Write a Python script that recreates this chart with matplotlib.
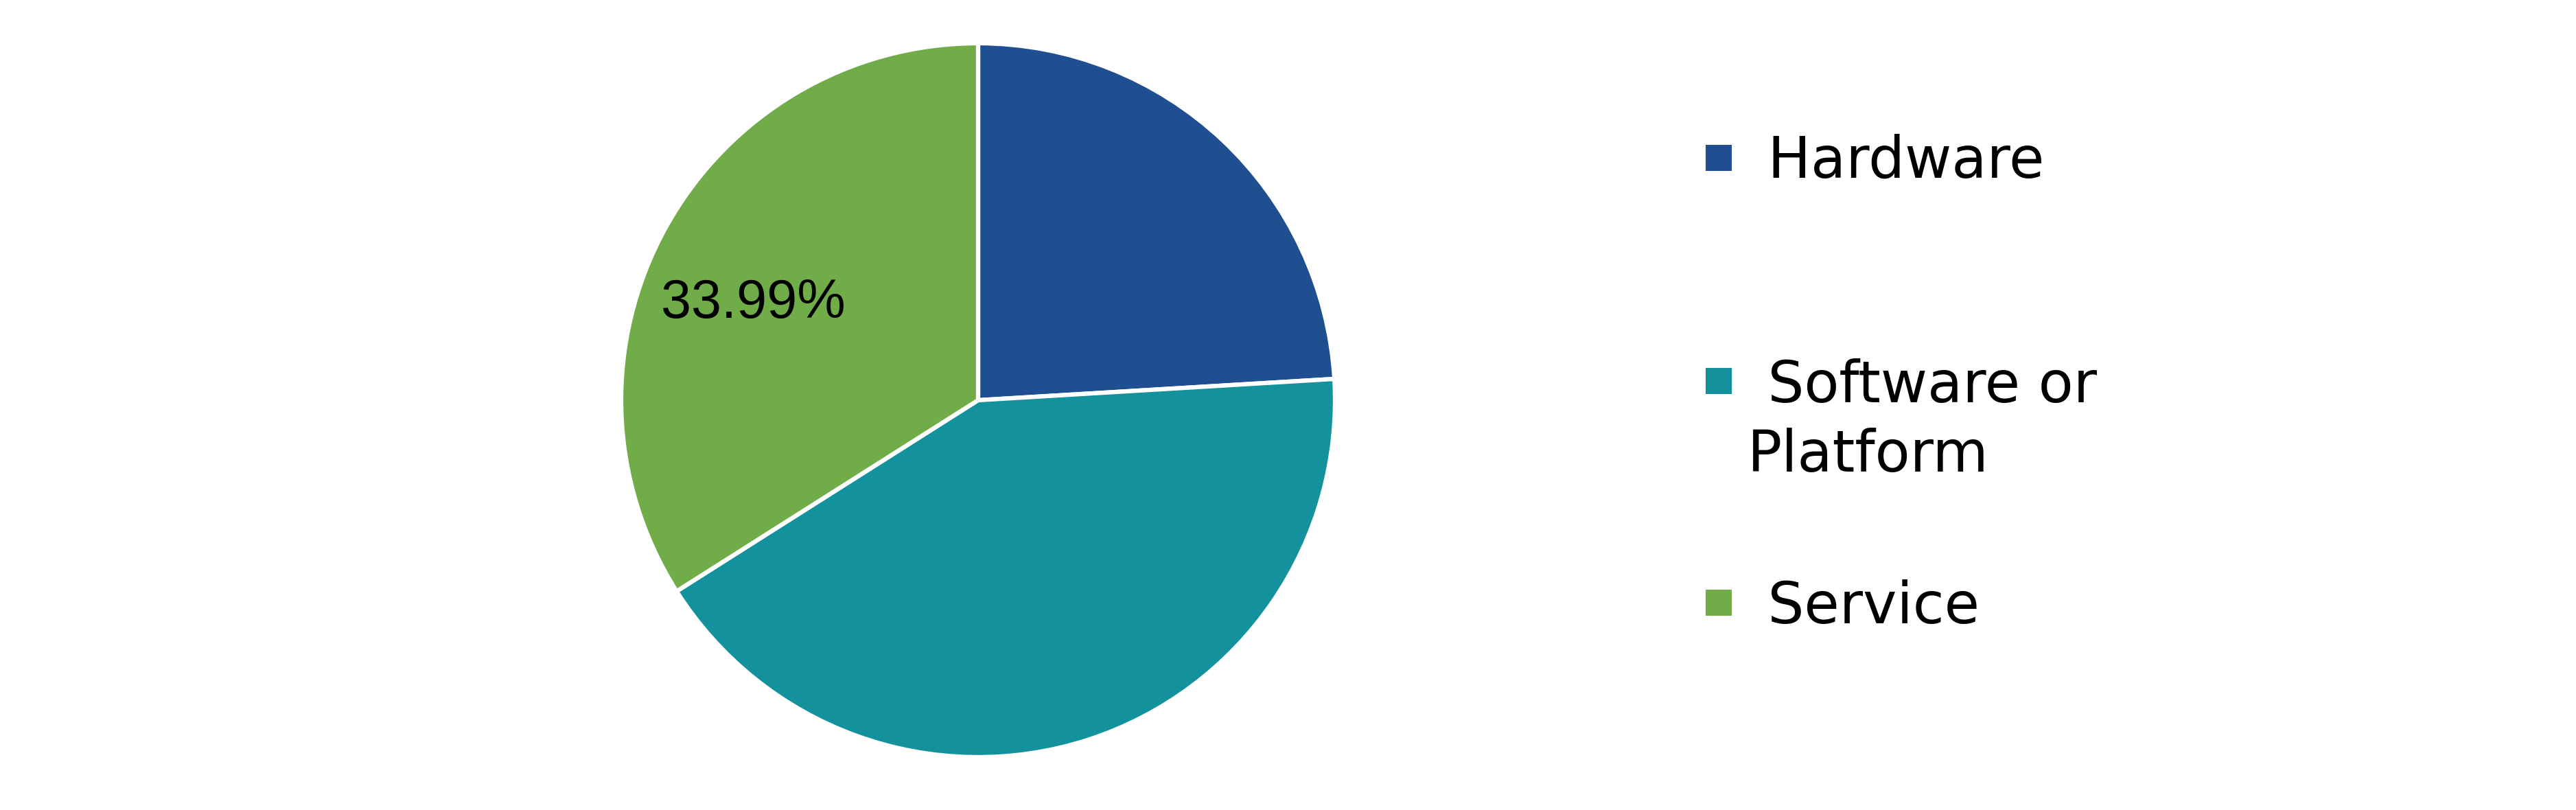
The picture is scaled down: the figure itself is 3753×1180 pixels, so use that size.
import matplotlib
matplotlib.use('Agg')
import matplotlib.pyplot as plt
from matplotlib.patches import Rectangle

categories = ['Hardware', 'Software or Platform', 'Service']
legend_labels = [' Hardware', ' Software or\nPlatform', ' Service']
shares = [24.05, 41.96, 33.99]
colors = ['#1F4F91', '#13929E', '#70AC48']
shown = ['Service']

W, H = 3753, 1180
fig = plt.figure(figsize=(W / 100, H / 100), dpi=100)

# pie centred at about (1425, 583) px, radius 520 px
cx, cy, r = 1425, 583, 520
ax = fig.add_axes([(cx - r) / W, (H - cy - r) / H, 2 * r / W, 2 * r / H])


def pct(p):
    return ''


wedges, texts, autotexts = ax.pie(shares, colors=colors, startangle=90, counterclock=False,
                                  autopct=pct, pctdistance=0.7,
                                  wedgeprops=dict(edgecolor='white', linewidth=4.5))
for cat, val, t in zip(categories, shares, autotexts):
    if cat in shown:
        t.set_text('%.2f%%' % val)
        t.set_fontsize(57)
        t.set_family('Liberation Sans')
        t.set_color('black')
        # nudge to where the label sits in the original
        t.set_position((-0.63, 0.27))
ax.set_xlim(-1, 1)
ax.set_ylim(-1, 1)

# legend drawn by hand
marker_y = [230, 555, 878]
text_base = [259, 586, 908]
for lab, col, my, ty in zip(legend_labels, colors, marker_y, text_base):
    fig.patches.append(Rectangle((2485 / W, 1 - (my + 19) / H), 38 / W, 38 / H,
                                 transform=fig.transFigure, facecolor=col, edgecolor='none'))
    lines = lab.split('\n')
    fig.text(2549 / W, 1 - ty / H, lines[0], fontsize=60, family='DejaVu Sans',
             va='baseline', ha='left')
    for k, extra in enumerate(lines[1:]):
        fig.text(2546 / W, 1 - (ty + 101 * (k + 1)) / H, extra, fontsize=60,
                 family='DejaVu Sans', va='baseline', ha='left')

fig.savefig('out.png', dpi=100)
